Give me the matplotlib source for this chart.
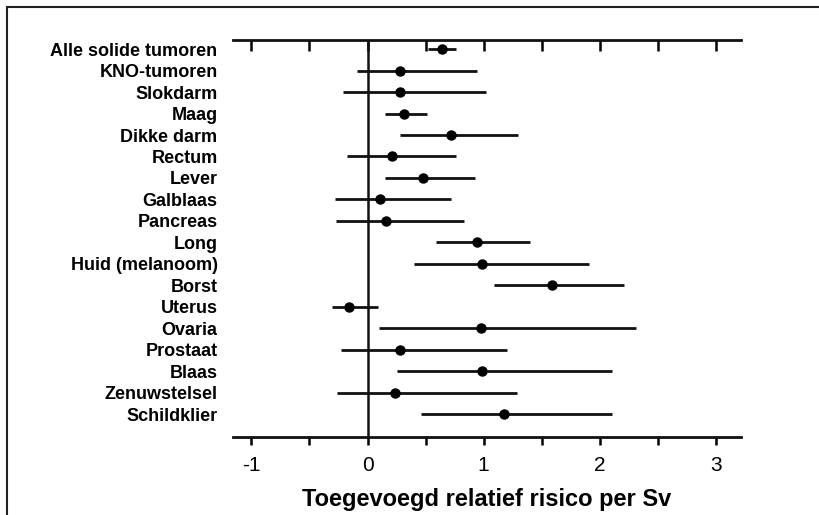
"""
Forest plot: toegevoegd relatief risico per Sv per tumorsoort.
"""

import matplotlib
matplotlib.use("Agg")
import matplotlib.pyplot as plt
from matplotlib.patches import Rectangle

plt.rcParams["font.family"] = ["Liberation Sans", "DejaVu Sans"]
plt.rcParams["axes.unicode_minus"] = False

sites = ["Alle solide tumoren", "KNO-tumoren", "Slokdarm", "Maag",
         "Dikke darm", "Rectum", "Lever", "Galblaas", "Pancreas", "Long",
         "Huid (melanoom)", "Borst", "Uterus", "Ovaria", "Prostaat",
         "Blaas", "Zenuwstelsel", "Schildklier"]
estimate = [0.64, 0.28, 0.28, 0.31, 0.72, 0.21, 0.48, 0.11, 0.16, 0.94,
            0.99, 1.59, -0.16, 0.98, 0.28, 0.99, 0.24, 1.18]
lower = [0.52, -0.09, -0.21, 0.15, 0.28, -0.18, 0.15, -0.28, -0.27, 0.59,
         0.40, 1.09, -0.31, 0.10, -0.23, 0.25, -0.26, 0.46]
upper = [0.76, 0.94, 1.02, 0.51, 1.30, 0.76, 0.93, 0.72, 0.83, 1.40,
         1.91, 2.21, 0.09, 2.31, 1.20, 2.11, 1.29, 2.11]
xticks = [-1, 0, 1, 2, 3]

fig = plt.figure(figsize=(8.2, 5.15), dpi=100)
# open frame round the figure (right and bottom edges cut off)
fig.patches.append(Rectangle((0.0085, -0.1), 1.2, 1.087, transform=fig.transFigure,
                             fill=False, edgecolor="#222222", linewidth=1.5))
ax = fig.add_axes([0.284, 0.1515, 0.62, 0.7705])

rows = list(range(len(sites)))
ax.hlines(rows, lower, upper, color="#111111", linewidth=2.0)
ax.plot(estimate, rows, "o", color="black", markersize=6.5)
ax.axvline(0, color="#111111", linewidth=1.8)

ax.set_xlim(-1.16, 3.22)
ax.set_ylim(18.07, -0.42)

for side in ["left", "right"]:
    ax.spines[side].set_visible(False)
for side in ["top", "bottom"]:
    ax.spines[side].set_linewidth(2.0)
    ax.spines[side].set_color("#111111")

ax.set_yticks(rows)
ax.set_yticklabels(sites, fontsize=13, fontweight="bold")
ax.tick_params(axis="y", length=0, pad=11)

ax.set_xticks(xticks)
ax.set_xticks([-0.5, 0.5, 1.5, 2.5], minor=True)
ax.tick_params(axis="x", which="both", direction="out", length=6, width=1.8,
               labelsize=15, pad=8)

top = ax.secondary_xaxis("top")
top.set_xticks([-1, -0.5, 0, 0.5, 1, 1.5, 2, 2.5, 3])
top.tick_params(direction="in", length=8, width=1.8, labeltop=False)
top.spines["top"].set_visible(False)

ax.set_xlabel("Toegevoegd relatief risico per Sv", fontsize=17,
              fontweight="bold", labelpad=9)

fig.savefig("out.png", dpi=100)
